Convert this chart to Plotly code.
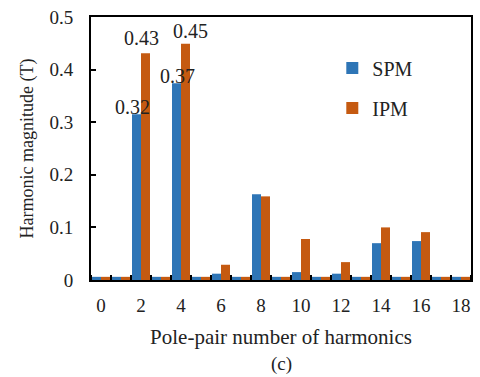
import plotly.graph_objects as go

harmonics = list(range(19))
spm = [0.006, 0.006, 0.315, 0.006, 0.374, 0.006, 0.012, 0.006, 0.163, 0.006,
       0.015, 0.006, 0.012, 0.006, 0.070, 0.006, 0.074, 0.006, 0.006]
ipm = [0.006, 0.006, 0.431, 0.006, 0.449, 0.006, 0.029, 0.006, 0.159, 0.006,
       0.078, 0.006, 0.034, 0.006, 0.100, 0.006, 0.091, 0.006, 0.006]
label_cats = [2, 4]
x_ticks = list(range(0, 19, 2))
y_ticks = [0, 0.1, 0.2, 0.3, 0.4, 0.5]

BLUE = "#2E75B6"
ORANGE = "#C55A11"
FONT = "Liberation Serif, Times New Roman, serif"

# label nudges (pixels) per labelled category: (spm_dx, spm_dy, ipm_dx, ipm_dy)
nudges = {2: (-9, -6, 0, 2), 4: (-4, -6, 9, 0)}

fig = go.Figure()
fig.add_trace(go.Bar(x=harmonics, y=spm, name="SPM", marker_color=BLUE,
                     marker_line_width=0, legendgroup="a"))
fig.add_trace(go.Bar(x=harmonics, y=ipm, name="IPM", marker_color=ORANGE,
                     marker_line_width=0, legendgroup="b"))

for c in label_cats:
    sdx, sdy, idx, idy = nudges[c]
    fig.add_annotation(x=c, y=spm[c], text=f"{spm[c]:.2f}", showarrow=False,
                       xanchor="center", yanchor="bottom", xshift=sdx, yshift=sdy,
                       font=dict(family=FONT, size=20, color="#222"))
    fig.add_annotation(x=c, y=ipm[c], text=f"{ipm[c]:.2f}", showarrow=False,
                       xanchor="center", yanchor="bottom", xshift=idx, yshift=idy,
                       font=dict(family=FONT, size=20, color="#222"))

fig.add_annotation(x=0.5, y=-0.32, xref="paper", yref="paper", text="(c)",
                   showarrow=False, xanchor="center", yanchor="middle",
                   font=dict(family=FONT, size=19, color="#222"))

fig.update_layout(
    width=480, height=377,
    margin=dict(l=91, r=7, t=14, b=97),
    paper_bgcolor="white", plot_bgcolor="white",
    barmode="group", bargap=0.1, bargroupgap=0,
    font=dict(family=FONT, size=19, color="#222"),
    legend=dict(x=0.635, y=0.88, xanchor="left", yanchor="top",
                font=dict(family=FONT, size=20, color="#222"),
                bgcolor="rgba(0,0,0,0)", tracegroupgap=11,
                traceorder="grouped"),
    xaxis=dict(
        range=[-0.5, 18.5], tickmode="array", tickvals=x_ticks,
        ticktext=[str(v) for v in x_ticks], ticks="", showgrid=False,
        zeroline=False, showline=True, linecolor="black", linewidth=2,
        mirror=True, ticklabelstandoff=7,
        minor=dict(ticks="inside", tickmode="linear", tick0=0.5, dtick=1,
                   ticklen=5, tickwidth=2, tickcolor="black", showgrid=False),
        title=dict(text="Pole-pair number of harmonics", standoff=15,
                   font=dict(family=FONT, size=21)),
    ),
    yaxis=dict(
        range=[0, 0.5], tickmode="array", tickvals=y_ticks,
        ticktext=["0", "0.1", "0.2", "0.3", "0.4", "0.5"],
        ticks="inside", ticklen=5, tickwidth=2, tickcolor="black",
        showgrid=False, zeroline=False, showline=True, linecolor="black",
        linewidth=2, mirror=True, ticklabelstandoff=12,
        title=dict(text="Harmonic magnitude (T)", standoff=11,
                   font=dict(family=FONT, size=18)),
    ),
)

fig.write_html("out.html", config={"displayModeBar": False},
               post_script="document.body.style.margin='0';document.body.style.padding='0';")
